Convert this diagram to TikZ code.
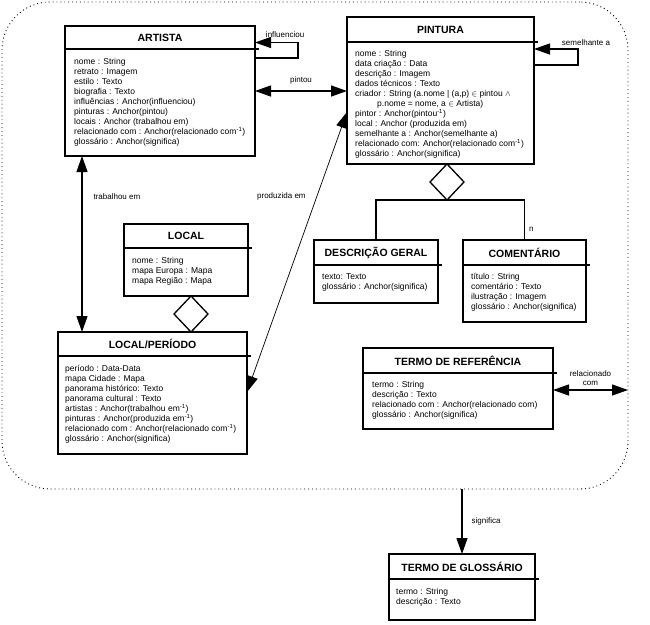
\documentclass[tikz,border=0pt]{standalone}
\usepackage{fontspec}
\setmainfont{Liberation Sans}
\usepackage{tikz}
\usetikzlibrary{positioning,arrows.meta,shapes.geometric}

\begin{document}
\begin{tikzpicture}[
    x=1pt, y=-1pt,
    classhead/.style={rectangle, draw, line width=1.3pt, inner sep=0pt, outer sep=0pt, anchor=north west, font=\fontsize{10.5}{12}\selectfont\bfseries},
    classbody/.style={rectangle, draw, line width=1.3pt, inner sep=0pt, outer sep=0pt},
    attrs/.style={align=left, inner sep=0pt, font=\fontsize{8.5}{10}\selectfont},
    agg/.style={diamond, draw, line width=1.3pt, fill=white, inner sep=0pt, outer sep=0pt, minimum width=34pt, minimum height=36pt},
    lbl/.style={font=\fontsize{8}{9}\selectfont, inner sep=1pt, align=center},
    arrow/.style={-{Triangle[length=16pt,width=11pt]}, line width=1.3pt},
    twoway/.style={{Triangle[length=16pt,width=11pt]}-{Triangle[length=16pt,width=11pt]}, line width=1.3pt}
]
\useasboundingbox (0,0) rectangle (650,624);

% Context border
\node[draw, dash pattern=on 0.9pt off 3pt, line width=0.9pt, rounded corners=48pt, minimum width=626pt, minimum height=487pt, anchor=north west, inner sep=0pt, outer sep=0pt] (contexto) at (2,2) {};

% Artista
\node[classhead, minimum width=190pt, minimum height=23pt] (artista-h) at (65,26) {ARTISTA};
\node[classbody, minimum width=190pt, minimum height=107pt, below=0pt of artista-h] (artista-b) {};
\node[attrs, below right=9pt and 9pt of artista-b.north west] (artista-a) {nome : String\\
retrato : Imagem\\
estilo : Texto\\
biografia : Texto\\
influências : Anchor(influenciou)\\
pinturas : Anchor(pintou)\\
locais : Anchor (trabalhou em)\\
relacionado com : Anchor(relacionado com\textsuperscript{-1})\\
glossário : Anchor(significa)};

% Pintura
\node[classhead, minimum width=187pt, minimum height=25pt] (pintura-h) at (347,17) {PINTURA};
\node[classbody, minimum width=187pt, minimum height=122pt, below=0pt of pintura-h] (pintura-b) {};
\node[attrs, below right=8pt and 8pt of pintura-b.north west] (pintura-a) {nome : String\\
data criação : Data\\
descrição : Imagem\\
dados técnicos : Texto\\
criador : String (a.nome | (a,p) $\in$ pintou $\wedge$\\
\hspace*{22pt}p.nome = nome, a $\in$ Artista)\\
pintor : Anchor(pintou\textsuperscript{-1})\\
local : Anchor (produzida em)\\
semelhante a : Anchor(semelhante a)\\
relacionado com: Anchor(relacionado com\textsuperscript{-1})\\
glossário : Anchor(significa)};

% Local
\node[classhead, minimum width=124pt, minimum height=24pt] (local-h) at (124,224) {LOCAL};
\node[classbody, minimum width=124pt, minimum height=48pt, below=0pt of local-h] (local-b) {};
\node[attrs, below right=9pt and 8pt of local-b.north west] (local-a) {nome : String\\
mapa Europa : Mapa\\
mapa Região : Mapa};

% Local/Periodo
\node[classhead, minimum width=189pt, minimum height=24pt] (lp-h) at (58,332) {LOCAL/PERÍODO};
\node[classbody, minimum width=189pt, minimum height=98pt, below=0pt of lp-h] (lp-b) {};
\node[attrs, below right=9pt and 7pt of lp-b.north west] (lp-a) {período : Data-Data\\
mapa Cidade : Mapa\\
panorama histórico: Texto\\
panorama cultural : Texto\\
artistas : Anchor(trabalhou em\textsuperscript{-1})\\
pinturas : Anchor(produzida em\textsuperscript{-1})\\
relacionado com : Anchor(relacionado com\textsuperscript{-1})\\
glossário : Anchor(significa)};

% Descricao geral
\node[classhead, minimum width=124pt, minimum height=25pt] (desc-h) at (314,240) {DESCRIÇÃO GERAL};
\node[classbody, minimum width=124pt, minimum height=38pt, below=0pt of desc-h] (desc-b) {};
\node[attrs, below right=8pt and 8pt of desc-b.north west] (desc-a) {texto: Texto\\
glossário : Anchor(significa)};

% Comentario
\node[classhead, minimum width=123pt, minimum height=25pt] (com-h) at (463,240) {COMENTÁRIO};
\node[classbody, minimum width=123pt, minimum height=57pt, below=0pt of com-h] (com-b) {};
\node[attrs, below right=8pt and 8pt of com-b.north west] (com-a) {título : String\\
comentário : Texto\\
ilustração : Imagem\\
glossário : Anchor(significa)};

% Termo de referencia
\node[classhead, minimum width=190pt, minimum height=25pt] (tr-h) at (363,348) {TERMO DE REFERÊNCIA};
\node[classbody, minimum width=190pt, minimum height=56pt, below=0pt of tr-h] (tr-b) {};
\node[attrs, below right=8pt and 9pt of tr-b.north west] (tr-a) {termo : String\\
descrição : Texto\\
relacionado com : Anchor(relacionado com)\\
glossário : Anchor(significa)};

% Termo de glossario
\node[classhead, minimum width=146pt, minimum height=25pt] (tg-h) at (389,554) {TERMO DE GLOSSÁRIO};
\node[classbody, minimum width=146pt, minimum height=41pt, below=0pt of tg-h] (tg-b) {};
\node[attrs, below right=9pt and 7pt of tg-b.north west] (tg-a) {termo : String\\
descrição : Texto};

% Header lines run a little past the box
\foreach \c in {artista,pintura,local,lp,desc,com,tr,tg}
    \draw[line width=1.3pt] (\c-h.south east) -- ++(4,0);

% Aggregations
\node[agg, below=0pt of pintura-b.south, xshift=6.5pt] (pintura-agg) {};
\node[agg, below=0pt of local-b.south, xshift=5pt] (local-agg) {};
\draw[line width=1.3pt] (desc-h.north) |- (pintura-agg.south) -| node[lbl, pos=0.87, right=3pt] {n} (com-h.north);

% Arrows
\draw[arrow] ([yshift=-9pt]artista-b.north east) -- ++(43,0) |- node[lbl, pos=0.65, above=3pt] {influenciou} ([yshift=-5pt]artista-h.east);
\draw[arrow] ([yshift=-23pt]pintura-b.north east) -- ++(44,0) |- node[lbl, pos=0.5, above=2pt, xshift=8pt] {semelhante a} ([yshift=-7pt]pintura-b.north east);
\draw[twoway] ([yshift=-42pt]artista-b.north east) -- node[lbl, above=5pt] {pintou} ([yshift=-42pt]artista-b.north east -| pintura-b.west);
\draw[twoway, line width=1.1pt] ([xshift=17pt]artista-b.south west) -- node[lbl, pos=0.23, right=10pt] {trabalhou em} ([xshift=17pt]artista-b.south west |- lp-h.north);
\draw[twoway, line width=0.7pt] ([yshift=-36pt]lp-b.north east) -- node[lbl, pos=0.7, left=10pt] {produzida em} ([yshift=-70pt]pintura-b.north west);
\draw[twoway] ([yshift=-17pt]tr-b.north east) -- node[lbl, above=3pt] {relacionado\\com} ([yshift=-17pt]tr-b.north east -| contexto.east);
\draw[arrow] (tg-h.north |- contexto.south) -- node[lbl, right=8pt] {significa} (tg-h.north);

\end{tikzpicture}
\end{document}
